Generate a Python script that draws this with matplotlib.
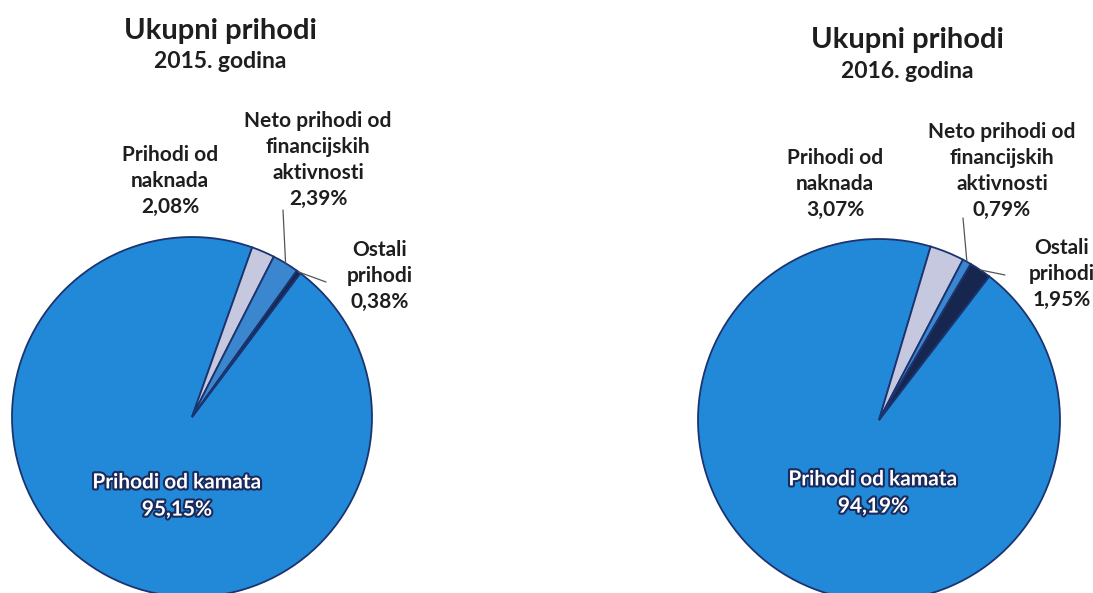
import math
import matplotlib
matplotlib.use("Agg")
import matplotlib.pyplot as plt
import matplotlib.patheffects as pe

# podaci (udjeli u %)
kategorije = ['Prihodi od kamata', 'Prihodi od naknada',
              'Neto prihodi od financijskih aktivnosti', 'Ostali prihodi']
oznake = ['Prihodi od kamata', 'Prihodi od\nnaknada',
          'Neto prihodi od\nfinancijskih\naktivnosti', 'Ostali\nprihodi']
udjeli_2015 = [95.15, 2.08, 2.39, 0.38]
udjeli_2016 = [94.19, 3.07, 0.79, 1.95]
godine = ['2015', '2016']

boje = ['#2189d7', '#c6c8e0', '#3a86cf', '#16264f']
rub = '#1b3470'
tekst = '#1e1e1e'

W, H = 1093, 593
fig = plt.figure(figsize=(W / 100, H / 100), dpi=100)
fig.patch.set_facecolor('white')
plt.rcParams['font.family'] = ['Lato', 'DejaVu Sans']


def fmt(v):
    return f"{v:.2f}".replace('.', ',') + '%'


def px(x, y):
    # slikovni pikseli (ishodište gore lijevo) -> udio figure
    return x / W, 1 - y / H


def crtaj(cx, cy, r, udjeli, god, start, naslov_y, poz):
    ax = fig.add_axes([(cx - r) / W, (H - cy - r) / H, 2 * r / W, 2 * r / H])
    wedges, _ = ax.pie(udjeli, colors=boje, startangle=start, counterclock=False,
                       radius=1, wedgeprops=dict(edgecolor=rub, linewidth=1.3))
    ax.set_xlim(-1, 1)
    ax.set_ylim(-1, 1)
    ax.axis('off')

    # naslov
    tx = poz['naslov_x']
    fig.text(*px(tx, naslov_y), 'Ukupni prihodi', ha='center', va='center',
             fontsize=21, fontweight='bold', color=tekst)
    fig.text(*px(tx, naslov_y + 31), f'{god}. godina', ha='center', va='center',
             fontsize=16.5, fontweight='bold', color=tekst)

    # oznaka najveceg isjecka (bijela s obrubom)
    kx, ky = poz['kamata']
    fig.text(*px(kx, ky), oznake[0] + '\n' + fmt(udjeli[0]), ha='center',
             va='center', fontsize=15, fontweight='bold', color='white',
             linespacing=1.45,
             path_effects=[pe.withStroke(linewidth=3, foreground='#1a2a5c')])

    # ostale oznake
    for i in (1, 2, 3):
        lx, ly = poz['oznake'][i]
        fig.text(*px(lx, ly), oznake[i] + '\n' + fmt(udjeli[i]), ha='center',
                 va='center', fontsize=15, fontweight='bold', color=tekst,
                 linespacing=1.38)

    # spojnice
    for i, (ox, oy) in poz['linije'].items():
        w = wedges[i]
        a = math.radians((w.theta1 + w.theta2) / 2)
        xy = (math.cos(a), math.sin(a))
        ax.annotate('', xy=xy, xycoords='data',
                    xytext=(ox, H - oy), textcoords='figure pixels',
                    arrowprops=dict(arrowstyle='-', color='#555555', lw=0.9,
                                    shrinkA=0, shrinkB=0))


crtaj(192, 417, 180, udjeli_2015, godine[0], 53, 31,
      dict(naslov_x=220, kamata=(177, 496),
           oznake={1: (170, 181), 2: (318, 160), 3: (380, 276)},
           linije={2: (283, 210), 3: (326, 282)}))

crtaj(879, 420, 181, udjeli_2016, godine[1], 52.5, 40,
      dict(naslov_x=907, kamata=(873, 493),
           oznake={1: (835, 184), 2: (1002, 171), 3: (1062, 274)},
           linije={2: (963, 218), 3: (1005, 275)}))

fig.savefig('out.png', dpi=100, facecolor='white')
